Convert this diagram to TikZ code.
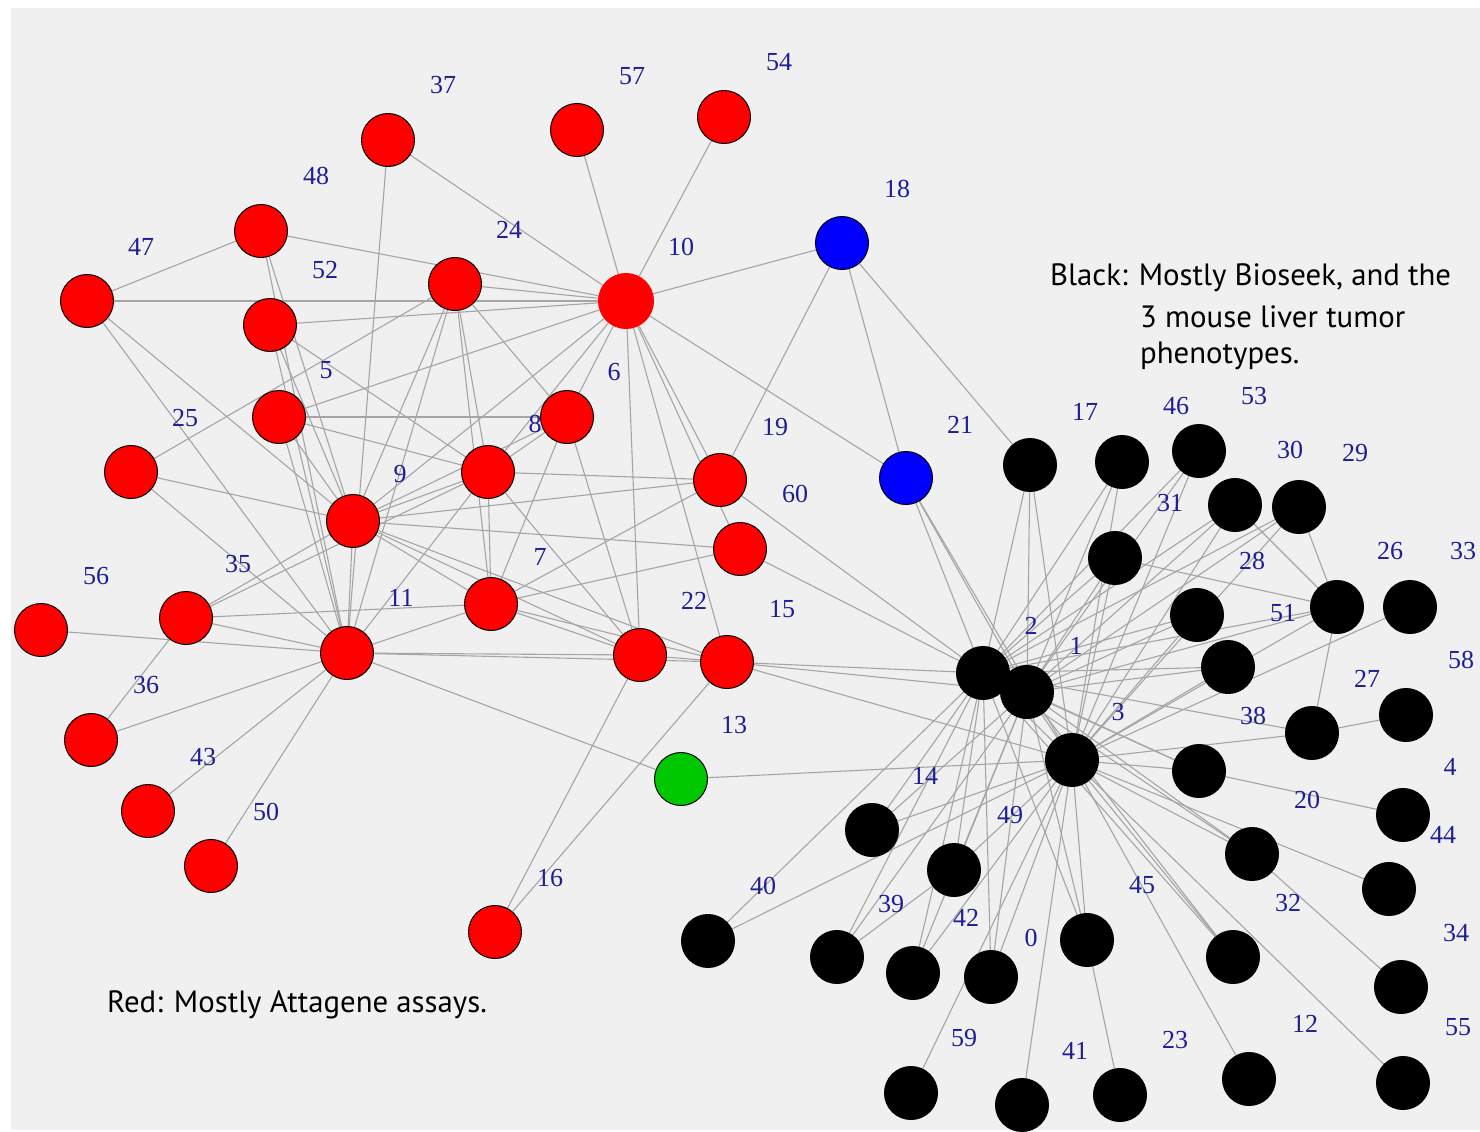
\documentclass[tikz,border=0pt]{standalone}
\usepackage{fontspec}
\setmainfont{Liberation Serif}
\newfontfamily\annfont{PT Sans}
\definecolor{bgc}{RGB}{240,240,240}
\definecolor{edgec}{RGB}{165,165,165}
\definecolor{labc}{RGB}{30,30,150}
\definecolor{grn}{RGB}{0,200,0}
\pgfdeclarelayer{bg}
\pgfdeclarelayer{edges}
\pgfsetlayers{bg,edges,main}
\begin{document}
\begin{tikzpicture}[x=1pt,y=-1pt,
  vtx/.style={circle,minimum size=53pt,inner sep=0pt,draw=black,line width=1pt},
  rv/.style={vtx,fill=red},
  bv/.style={vtx,fill=blue},
  gv/.style={vtx,fill=grn},
  kv/.style={vtx,fill=black},
  lab/.style={text=labc,font=\fontsize{26}{26}\selectfont,inner sep=0pt},
  edge/.style={draw=edgec,line width=1.1pt},
  ann/.style={font=\annfont\fontsize{30.8}{39}\selectfont,anchor=west,inner sep=0pt}]
\useasboundingbox (0,0) rectangle (1480,1132);
\begin{pgfonlayer}{bg}
\fill[white] (0,0) rectangle (1480,1132);
\fill[bgc] (11,8) rectangle (1480,1130);
\end{pgfonlayer}
% red nodes
\foreach \n/\x/\y/\lx/\ly in {37/388/140/443/85, 57/577/130/632/76, 54/724/117/779/62,
  48/261/231/316/176, 47/87/301/141/247, 52/270/325/325/270, 24/455/284/509/230,
  5/279/417/326/370, 25/131/472/185/418, 6/567/417/614/372, 8/488/472/535/424,
  9/353/521/400/474, 19/720/480/775/427, 60/740/549/795/494, 7/491/604/540/557,
  35/186/618/238/564, 56/41/630/96/576, 11/347/653/401/598, 22/640/655/694/601,
  15/727/662/782/609, 36/91/740/146/685, 43/148/811/203/757, 50/211/866/266/812,
  16/495/932/550/878}{
  \node[rv] (n\n) at (\x,\y) {};
  \node[lab] (l\n) at (\lx,\ly) {\n};
}
\node[vtx,fill=red,draw=red,minimum size=55pt] (n10) at (626,301) {};
\node[lab] (l10) at (681,247) {10};
% blue and green
\node[bv] (n18) at (842,243) {};
\node[lab] (l18) at (897,189) {18};
\node[bv] (n21) at (906,478) {};
\node[lab] (l21) at (960,425) {21};
\node[gv] (n13) at (681,779) {};
\node[lab] (l13) at (734,725) {13};
% black nodes
\foreach \n/\x/\y/\lx/\ly in {17/1030/465/1085/412, 46/1122/462/1176/406, 53/1199/451/1254/396,
  30/1235/505/1290/450, 29/1299/507/1355/453, 31/1115/558/1170/503, 28/1197/615/1252/561,
  26/1337/607/1390/551, 33/1410/607/1463/551, 51/1228/667/1283/613, 58/1406/715/1461/660,
  27/1312/733/1367/679, 2/983/673/1031/626, 1/1027/692/1076/646, 3/1072/760/1118/712,
  38/1199/771/1253/716, 4/1403/815/1450/767, 20/1252/854/1307/800, 44/1389/889/1443/835,
  14/872/830/925/776, 49/954/870/1010/815, 45/1087/940/1142/885, 32/1233/957/1288/903,
  34/1401/987/1456/933, 40/708/941/763/886, 39/837/957/891/904, 42/913/973/966/918,
  0/991/977/1031/938, 59/911/1093/964/1038, 41/1022/1105/1075/1051, 23/1120/1095/1175/1040,
  12/1249/1079/1305/1024, 55/1403/1083/1458/1027}{
  \node[kv] (n\n) at (\x,\y) {};
  \node[lab] (l\n) at (\lx,\ly) {\n};
}
% edges
\begin{pgfonlayer}{edges}
\foreach \a/\b in {37/10, 37/11, 57/10, 54/10, 18/10, 18/19, 18/21, 18/17, 10/21,
  48/47, 48/10, 48/11, 48/9, 47/10, 47/11, 47/9,
  52/10, 52/8, 52/11, 52/9, 5/6, 5/10, 5/8, 5/11, 5/9,
  25/24, 25/9, 25/11, 24/10, 24/9, 24/11, 24/8, 24/7, 24/6,
  10/6, 10/8, 10/9, 10/22, 10/19, 10/60, 10/15,
  6/8, 6/9, 6/7, 6/22, 8/9, 8/7, 8/22, 8/19, 8/11,
  9/19, 9/60, 9/7, 9/22, 9/15, 9/11, 9/35,
  7/19, 7/60, 7/22, 7/15, 7/11, 7/35,
  22/15, 22/16, 15/16, 35/8, 35/11, 36/35, 36/11, 56/11, 43/11, 50/11,
  11/22, 11/15, 11/13,
  13/3, 15/2, 15/1, 15/3, 21/2, 21/1, 21/3, 19/2, 60/2,
  17/2, 17/1, 17/3, 46/2, 46/1, 46/3, 53/2, 53/1, 53/3, 30/2, 30/1, 30/3,
  29/2, 29/1, 29/3, 31/2, 31/1, 31/3, 28/2, 28/1, 28/3, 51/2, 51/1, 51/3,
  26/2, 26/1, 26/3, 26/31, 26/30, 26/29, 26/27, 33/3, 27/2, 27/3, 27/58,
  38/2, 38/1, 38/3, 38/4, 20/2, 20/1, 20/3, 20/34, 44/3, 32/2, 32/1, 32/3,
  55/3, 12/3, 45/2, 45/1, 45/3, 45/23, 41/3, 59/3, 0/2, 0/1, 0/3,
  42/2, 42/1, 42/3, 49/2, 49/1, 49/3, 39/2, 39/1, 39/49, 14/2, 14/1, 14/3,
  40/2, 40/3, 2/1, 2/3, 1/3}{
  \draw[edge] (n\a) -- (n\b);
}
\end{pgfonlayer}
% annotations
\node[ann] (tb1) at (1050,278) {Black: Mostly Bioseek, and the};
\node[ann] (tb2) at (1140,317) {3 mouse liver tumor};
\node[ann] (tb3) at (1140,356) {phenotypes.};
\node[ann] (tr) at (107,1005) {Red: Mostly Attagene assays.};
\end{tikzpicture}
\end{document}
